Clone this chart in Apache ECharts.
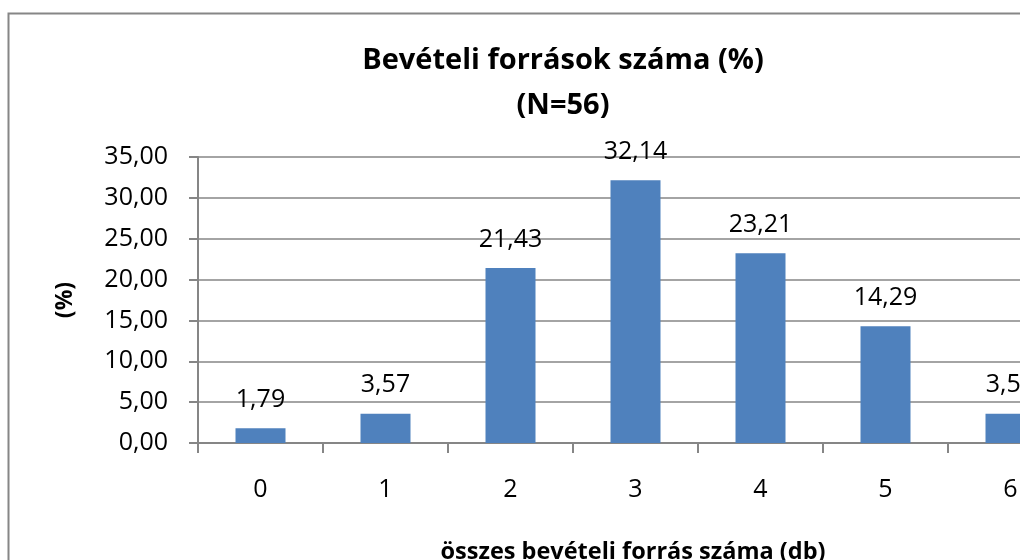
<!DOCTYPE html>
<html>
<head>
<meta charset="utf-8">
<script src="https://cdn.jsdelivr.net/npm/echarts@6/dist/echarts.min.js"></script>
<style>
  html, body { margin: 0; padding: 0; background: #fff; overflow: hidden; }
  #chart { width: 1100px; height: 560px; }
</style>
</head>
<body>
<div id="chart"></div>
<script>
// adatok
const categories = ['0', '1', '2', '3', '4', '5', '6']
const percentValues = [1.79, 3.57, 21.43, 32.14, 23.21, 14.29, 3.57]
const yTicks = [0, 5, 10, 15, 20, 25, 30, 35]

const FONT = 'Open Sans'
const gray = '#868686'

function fmt(v) {
  return v.toFixed(2).replace('.', ',')
}

const chart = echarts.init(document.getElementById('chart'))

chart.setOption({
  animation: false,
  textStyle: { fontFamily: FONT, color: '#000' },
  graphic: [
    {
      // keret, jobbra és lent kilóg a képből
      type: 'rect',
      shape: { x: 8.5, y: 13.5, width: 1300, height: 1000 },
      style: { fill: 'none', stroke: gray, lineWidth: 2 },
      silent: true
    }
  ],
  title: [
    {
      text: 'Bevételi források száma (%)\n(N=56)',
      left: 558,
      top: 33,
      textAlign: 'center',
      textStyle: { fontFamily: FONT, fontSize: 29, fontWeight: 'bold', color: '#000', lineHeight: 45 }
    },
    {
      text: 'összes bevételi forrás száma (db)',
      left: 628,
      top: 535,
      textAlign: 'center',
      textStyle: { fontFamily: FONT, fontSize: 23.5, fontWeight: 'bold', color: '#000' }
    }
  ],
  grid: {
    left: 198,
    top: 157,
    width: 875,
    bottom: 117
  },
  xAxis: {
    type: 'category',
    data: categories,
    axisLine: { lineStyle: { color: gray, width: 2 } },
    axisTick: { show: true, interval: 0, length: 10, lineStyle: { color: gray, width: 2 } },
    axisLabel: { margin: 34, fontFamily: FONT, fontSize: 25, color: '#000' }
  },
  yAxis: {
    type: 'value',
    min: yTicks[0],
    max: yTicks[yTicks.length - 1],
    interval: 5,
    name: '(%)',
    nameLocation: 'middle',
    nameRotate: 90,
    nameGap: 121,
    nameTextStyle: { fontFamily: FONT, fontSize: 23, fontWeight: 'bold', color: '#000' },
    axisLine: { show: true, lineStyle: { color: gray, width: 2 } },
    axisTick: { show: true, length: 9, lineStyle: { color: gray, width: 2 } },
    axisLabel: { margin: 30, fontFamily: FONT, fontSize: 25, color: '#000', formatter: fmt },
    splitLine: { lineStyle: { color: gray, width: 1.5 } }
  },
  series: [
    {
      type: 'bar',
      data: percentValues,
      barWidth: 50,
      itemStyle: { color: '#4F81BD' },
      label: {
        show: true,
        position: 'top',
        distance: 16,
        fontFamily: FONT,
        fontSize: 25,
        color: '#000',
        formatter: p => fmt(p.value)
      }
    }
  ]
})
</script>
</body>
</html>
